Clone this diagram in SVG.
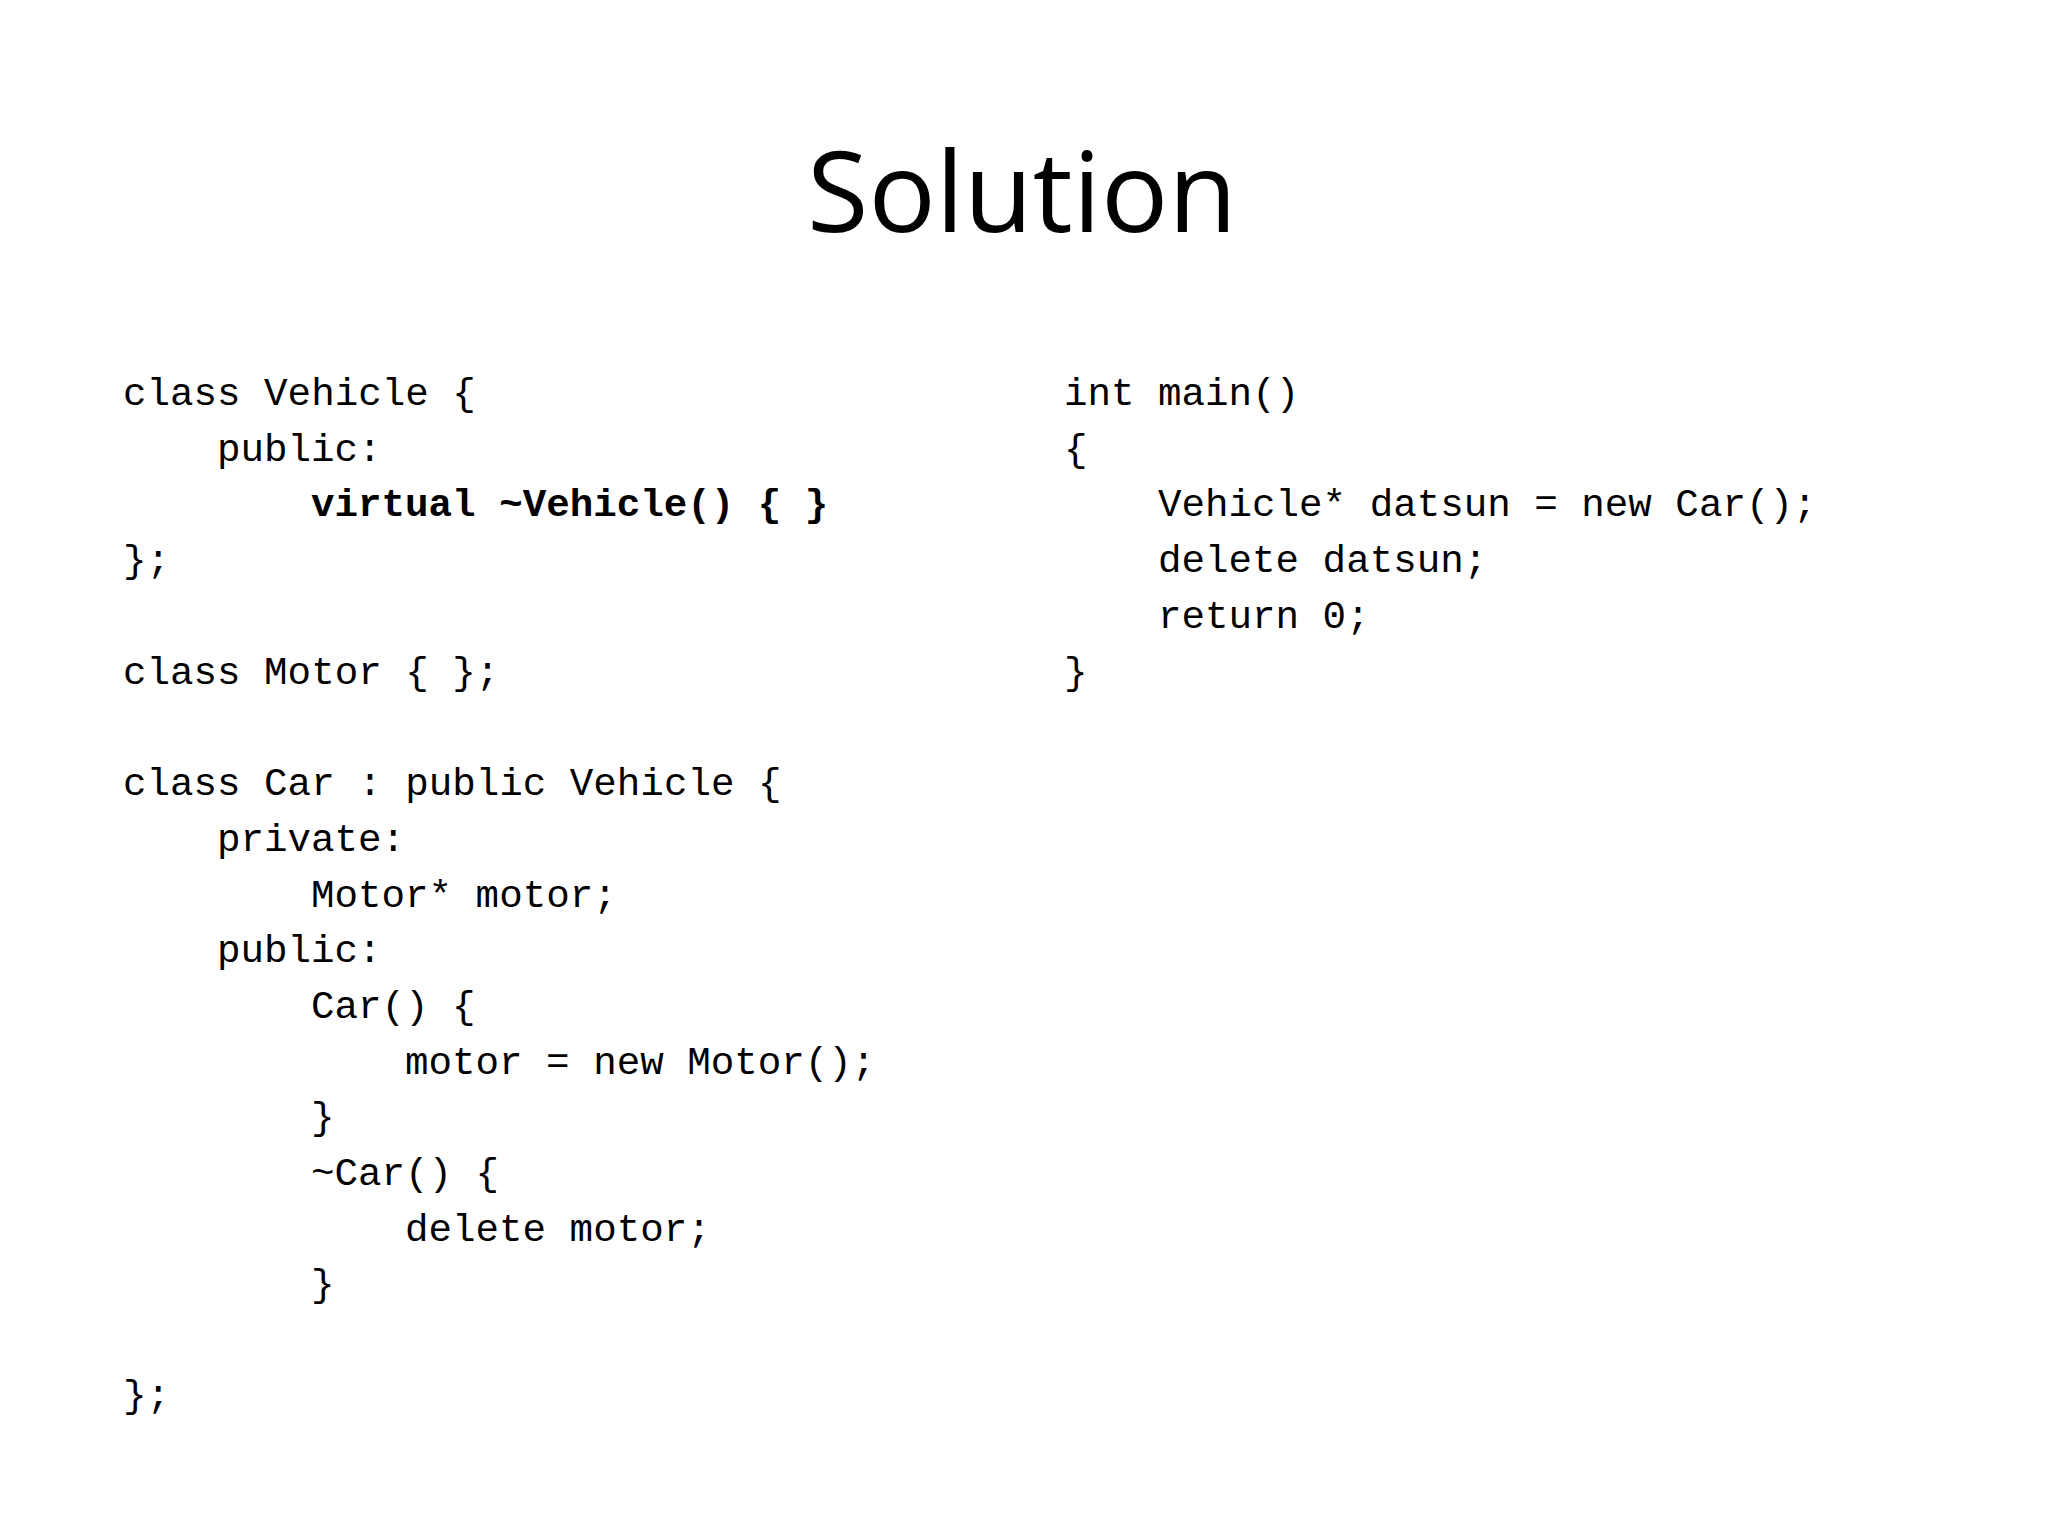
<svg xmlns="http://www.w3.org/2000/svg" width="2048" height="1536" viewBox="0 0 2048 1536">
<style>
.t{font-family:"Open Sans","Liberation Sans",sans-serif;font-size:112px;fill:#000}
.c{font-family:"Liberation Mono","Courier New",monospace;font-size:39.2px;fill:#000}
.b{font-weight:bold}
</style>
<rect width="2048" height="1536" fill="#fff"/>
<text class="t" x="1022" y="232" text-anchor="middle">Solution</text>
<g id="left">
<text class="c" x="123" y="405">class Vehicle {</text>
<text class="c" x="217" y="461">public:</text>
<text class="c b" x="311" y="516">virtual ~Vehicle() { }</text>
<text class="c" x="123" y="572">};</text>
<text class="c" x="123" y="684">class Motor { };</text>
<text class="c" x="123" y="795">class Car : public Vehicle {</text>
<text class="c" x="217" y="851">private:</text>
<text class="c" x="311" y="907">Motor* motor;</text>
<text class="c" x="217" y="962">public:</text>
<text class="c" x="311" y="1018">Car() {</text>
<text class="c" x="405" y="1074">motor = new Motor();</text>
<text class="c" x="311" y="1129">}</text>
<text class="c" x="311" y="1185">~Car() {</text>
<text class="c" x="405" y="1241">delete motor;</text>
<text class="c" x="311" y="1296">}</text>
<text class="c" x="123" y="1407">};</text>
</g>
<g id="right">
<text class="c" x="1064" y="405">int main()</text>
<text class="c" x="1064" y="461">{</text>
<text class="c" x="1158" y="516">Vehicle* datsun = new Car();</text>
<text class="c" x="1158" y="572">delete datsun;</text>
<text class="c" x="1158" y="628">return 0;</text>
<text class="c" x="1064" y="684">}</text>
</g>
</svg>
